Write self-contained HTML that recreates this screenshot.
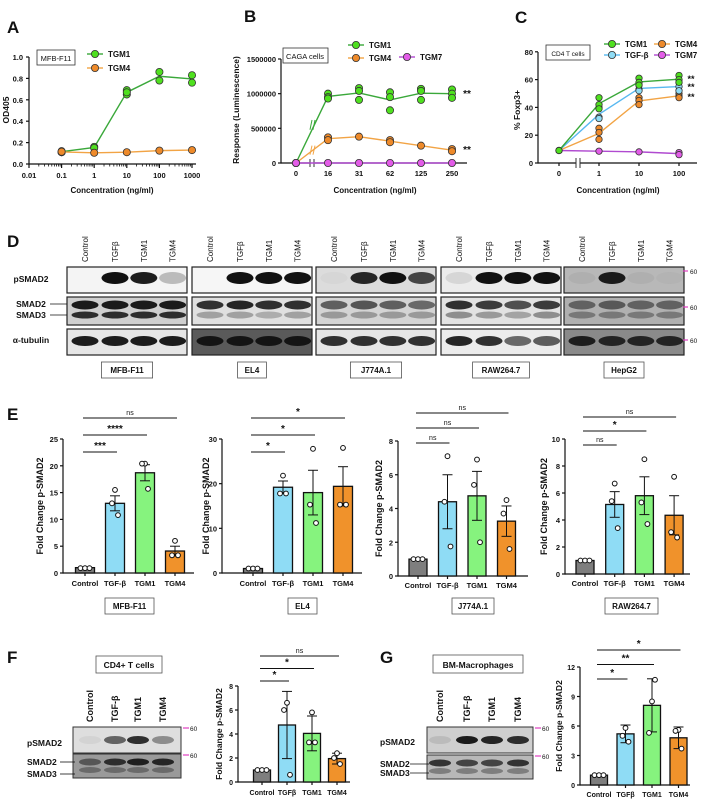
<!DOCTYPE html>
<html><head><meta charset="utf-8"><style>
html,body{margin:0;padding:0;background:#fff;width:701px;height:800px;overflow:hidden}
svg{display:block}
</style></head><body>
<svg id="fig" width="701" height="800" viewBox="0 0 701 800" xmlns="http://www.w3.org/2000/svg"></svg>
<script>
// ---------- DATA ----------
const aConc=[0.1,1,10,100,1000];
const aXTicks=[0.01,0.1,1,10,100,1000];
const aYTicks=[0,0.2,0.4,0.6,0.8,1.0];
const aTGM1=[[0.11,0.12],[0.16,0.15],[0.69,0.65,0.67],[0.86,0.78],[0.83,0.76]];
const aTGM4=[[0.11,0.115],[0.105],[0.11],[0.125],[0.13]];

const bCats=['0','16','31','62','125','250'];
const bYTicks=[0,500000,1000000,1500000];
const bTGM1=[[0],[1000000,950000,930000],[1080000,1040000,910000],[1020000,950000,760000],[1070000,1040000,910000],[1060000,1000000,940000]];
const bTGM4=[[0],[370000,330000],[380000],[330000,300000],[250000],[200000,170000]];
const bTGM7=[[0],[0],[0],[0],[0],[0]];

const cCats=['0','1','10','100'];
const cYTicks=[0,20,40,60,80];
const cTGM1=[[9],[47,42,39],[61,58,56],[63,60,58]];
const cTGFb=[[9],[40,33,32],[56,53,52],[58,55,52]];
const cTGM4=[[9],[25,22,17],[47,45,42],[50,48,47]];
const cTGM7=[[9],[8.5],[8],[7.5,6]];

const eCats=['Control','TGF-β','TGM1','TGM4'];
const fgCats=['Control','TGFβ','TGM1','TGM4'];
const e1Means=[1,13,18.7,4.1], e1Err=[0,1.4,1.5,0.9], e1Pts=[[0.9,0.9,0.9],[15.5,13,10.8],[20.4,20.4,15.7],[6,3.3,3.3]], e1Ticks=[0,5,10,15,20,25], e1Sig=[['***',1],['****',2],['ns',3]];
const e2Means=[1,19.2,18,19.4], e2Err=[0,1.4,5,4.4], e2Pts=[[1,1,1],[21.8,17.8,17.8],[27.8,15.3,11.2],[28,15.3,15.3]], e2Ticks=[0,10,20,30], e2Sig=[['*',1],['*',2],['*',3]];
const e3Means=[1,4.4,4.75,3.25], e3Err=[0,1.6,1.45,0.9], e3Pts=[[1,1,1],[7.1,4.4,1.75],[6.9,5.4,2],[4.5,3.7,1.6]], e3Ticks=[0,2,4,6,8], e3Sig=[['ns',1],['ns',2],['ns',3]];
const e4Means=[1,5.15,5.8,4.35], e4Err=[0,0.95,1.4,1.45], e4Pts=[[1,1,1],[6.7,5.4,3.4],[8.5,5.3,3.7],[7.2,3.1,2.7]], e4Ticks=[0,2,4,6,8,10], e4Sig=[['ns',1],['*',2],['ns',3]];
const fMeans=[1,4.75,4.05,1.95], fErr=[0,2.8,1.45,0.45], fPts=[[1,1,1],[6.6,6,0.6],[5.8,3.3,3.3],[2.4,2,1.5]], fTicks=[0,2,4,6,8], fSig=[['*',1],['*',2],['ns',3]];
const gMeans=[1,5.2,8.1,4.8], gErr=[0,0.9,2.7,1.1], gPts=[[1,1,1],[5.8,5,4.4],[8.5,5.3,10.7],[5.6,5.5,3.7]], gTicks=[0,3,6,9,12], gSig=[['*',1],['**',2],['*',3]];

// blot band intensities (lanes: Control, TGFb, TGM1, TGM4)
const dLines=['MFB-F11','EL4','J774A.1','RAW264.7','HepG2'];
const dP=[[0.02,1,0.95,0.25],[0.02,1,1,1],[0.03,0.9,1,0.75],[0.1,1,1,1],[0.05,0.95,0.05,0.03]];
const dS2=[[0.95,0.95,0.95,0.95],[0.85,0.9,0.85,0.85],[0.6,0.65,0.6,0.55],[0.85,0.8,0.7,0.8],[0.5,0.55,0.5,0.5]];
const dS3=[[0.85,0.85,0.85,0.85],[0.3,0.3,0.25,0.3],[0.3,0.3,0.3,0.3],[0.4,0.35,0.3,0.4],[0.35,0.35,0.35,0.35]];
const dT=[[0.95,0.95,0.95,0.95],[0.95,0.95,0.95,0.95],[0.85,0.85,0.85,0.85],[0.9,0.85,0.6,0.65],[0.9,0.85,0.85,0.85]];
const fP=[0.05,0.6,0.85,0.4], fS2=[0.5,0.8,0.9,0.85];
const gP=[0.1,0.95,0.9,0.85], gS2=[0.8,0.7,0.7,0.8];

// ---------- HELPERS ----------
const NS='http://www.w3.org/2000/svg';
const svg=document.getElementById('fig');
function add(tag,attrs,name){
  const e=document.createElementNS(NS,tag);
  for(const k in attrs) e.setAttribute(k,attrs[k]);
  
  
  svg.appendChild(e);return e;
}
const FF='"Liberation Sans", Arial, sans-serif';
function txt(x,y,s,name,o){const e=add('text',Object.assign({x:x,y:y,'font-family':FF,'font-size':8,'font-weight':'bold',fill:'#111','text-anchor':'middle'},o||{}),name);e.textContent=s;return e;}
function ln(x1,y1,x2,y2,name,st,sw){return add('line',{x1:x1,y1:y1,x2:x2,y2:y2,stroke:st||'#111','stroke-width':sw||1.2},name);}
function rt(x,y,w,h,name,o){return add('rect',Object.assign({x:x,y:y,width:w,height:h},o||{}),name);}
function rotTxt(x,y,s,name,o){const e=txt(x,y,s,name,Object.assign({transform:'rotate(-90 '+x+' '+y+')'},o||{}));return e;}
function mean(a){return a.reduce((p,c)=>p+c,0)/a.length;}
function label(x,y,s){txt(x,y,s,'panel-label-'+s.toLowerCase(),{'font-size':17,'text-anchor':'start'});}

// ---------- PANEL A ----------
label(7,33,'A');
const aX=v=>29+(Math.log10(v)+2)*32.6, aY=v=>164-v*107;
ln(29,57,29,164.6,'a-y-axis');ln(29,164,196,164,'a-x-axis');
aYTicks.forEach(t=>{ln(26,aY(t),29,aY(t),'a-y-tick');txt(23,aY(t)+3,t.toFixed(1),'a-y-tick-label',{'text-anchor':'end','font-size':7.5});});
aXTicks.forEach((t,i)=>{ln(aX(t),164,aX(t),168,'a-x-tick');txt(aX(t),178,String(t),'a-x-tick-label',{'font-size':7.5});
  if(i<aXTicks.length-1) for(let m=2;m<10;m++){const xx=aX(t*m);ln(xx,164,xx,166.5,'a-x-minor-tick','#111',0.8);}});
txt(112,193,'Concentration (ng/ml)','a-x-axis-title',{'font-size':8});
rotTxt(9,110,'OD405','a-y-axis-title',{'font-size':8.5});
function series(pts,xf,yf,col,fill,name,r){
  const d=pts.map((p,i)=>(i?'L':'M')+xf(i)+' '+yf(mean(p))).join(' ');
  add('path',{d:d,fill:'none',stroke:col,'stroke-width':1.4},name+'-line');
  pts.forEach((p,i)=>p.forEach(v=>add('circle',{cx:xf(i),cy:yf(v),r:r||3.6,fill:fill,stroke:'#333','stroke-width':0.8},name+'-point')));
}
series(aTGM1,i=>aX(aConc[i]),aY,'#3aa83a','#4fe01f','a-tgm1');
series(aTGM4,i=>aX(aConc[i]),aY,'#f2a445','#ee8a2a','a-tgm4');
rt(37,50,38,15,'a-cell-box',{fill:'#fff',stroke:'#333','stroke-width':0.8});
txt(56,61,'MFB-F11','a-cell-label',{'font-weight':'normal','font-size':7.5});
function legend(x,y,s,col,fill,name){ln(x-8,y,x+8,y,name+'-swatch-line',col,1.4);add('circle',{cx:x,cy:y,r:3.6,fill:fill,stroke:'#333','stroke-width':0.8},name+'-swatch');txt(x+13,y+3,s,name+'-label',{'text-anchor':'start','font-size':8});}
legend(95,54,'TGM1','#3aa83a','#4fe01f','a-legend-tgm1');
legend(95,68,'TGM4','#f2a445','#ee8a2a','a-legend-tgm4');

// ---------- PANEL B ----------
label(244,22,'B');
const bX=i=>i===0?296:328+(i-1)*31, bY=v=>163-v/1500000*104;
ln(281,59,281,163.6,'b-y-axis');ln(281,163,467,163,'b-x-axis');
bYTicks.forEach(t=>{ln(278,bY(t),281,bY(t),'b-y-tick');txt(276,bY(t)+3,String(t),'b-y-tick-label',{'text-anchor':'end','font-size':7.5});});
bCats.forEach((c,i)=>{ln(bX(i),163,bX(i),166,'b-x-tick');txt(bX(i),176,c,'b-x-tick-label',{'font-size':7.5});});
rt(310,159,5,8,'b-axis-break',{fill:'#fff'});ln(310,159,310,167,'b-break-mark','#333',1);ln(314,159,314,167,'b-break-mark','#333',1);
txt(375,193,'Concentration (ng/ml)','b-x-axis-title');
rotTxt(239,110,'Response (Luminescence)','b-y-axis-title',{'font-size':8.5});
series(bTGM4,bX,bY,'#f2a445','#ee8a2a','b-tgm4');
series(bTGM1,bX,bY,'#3aa83a','#4fe01f','b-tgm1');
series(bTGM7,bX,bY,'#b04ad0','#e35ce8','b-tgm7');
ln(310,bY(480000),312,bY(620000),'b-line-break','#3aa83a',1);ln(313,bY(480000),315,bY(620000),'b-line-break','#3aa83a',1);
ln(310,bY(120000),312,bY(250000),'b-line-break','#f2a445',1);ln(313,bY(120000),315,bY(250000),'b-line-break','#f2a445',1);
rt(283,48,45,15,'b-cell-box',{fill:'#fff',stroke:'#333','stroke-width':0.8});
txt(305,59,'CAGA cells','b-cell-label',{'font-weight':'normal','font-size':7.5});
legend(356,45,'TGM1','#3aa83a','#4fe01f','b-legend-tgm1');
legend(356,58,'TGM4','#f2a445','#ee8a2a','b-legend-tgm4');
legend(407,57,'TGM7','#b04ad0','#e35ce8','b-legend-tgm7');
txt(467,97,'**','b-sig-tgm1',{'font-size':10});txt(467,153,'**','b-sig-tgm4',{'font-size':10});

// ---------- PANEL C ----------
label(515,23,'C');
const cX=i=>i===0?559:599+(i-1)*40, cY=v=>163-v*1.39;
ln(538,52,538,163.6,'c-y-axis');ln(538,163,697,163,'c-x-axis');
cYTicks.forEach(t=>{ln(535,cY(t),538,cY(t),'c-y-tick');txt(533,cY(t)+3,String(t),'c-y-tick-label',{'text-anchor':'end','font-size':7.5});});
cCats.forEach((c,i)=>{ln(cX(i),163,cX(i),166,'c-x-tick');txt(cX(i),176,c,'c-x-tick-label',{'font-size':7.5});});
rt(576,159,4,8,'c-axis-break',{fill:'#fff'});ln(576,158,576,168,'c-break-mark','#333',1);ln(580,158,580,168,'c-break-mark','#333',1);
txt(618,193,'Concentration (ng/ml)','c-x-axis-title');
rotTxt(520,110,'% Foxp3+','c-y-axis-title',{'font-size':8.5});
series(cTGM7,cX,cY,'#b04ad0','#e35ce8','c-tgm7',3.2);
series(cTGM4,cX,cY,'#f2a445','#ee8a2a','c-tgm4',3.2);
series(cTGFb,cX,cY,'#58b8f0','#8fdcf5','c-tgfb',3.2);
series(cTGM1,cX,cY,'#3aa83a','#4fe01f','c-tgm1',3.2);
rt(546,45,44,15,'c-cell-box',{fill:'#fff',stroke:'#333','stroke-width':0.8});
txt(568,56,'CD4 T cells','c-cell-label',{'font-weight':'normal','font-size':6.5});
legend(612,44,'TGM1','#3aa83a','#4fe01f','c-legend-tgm1');
legend(612,55,'TGF-β','#58b8f0','#8fdcf5','c-legend-tgfb');
legend(662,44,'TGM4','#f2a445','#ee8a2a','c-legend-tgm4');
legend(662,55,'TGM7','#b04ad0','#e35ce8','c-legend-tgm7');
txt(691,82,'**','c-sig-tgm1',{'font-size':9});txt(691,90,'**','c-sig-tgfb',{'font-size':9});txt(691,100,'**','c-sig-tgm4',{'font-size':9});

// ---------- PANEL D (blots) ----------
label(7,247,'D');
const dGroupX=[67,192,316,441,564], dW=120, laneF=[0.15,0.4,0.64,0.88];
function band(cx,cy,w,h,a,name){if(a<=0.02)return;add('ellipse',{cx:cx,cy:cy,rx:w/2,ry:h/2,fill:'#111','fill-opacity':a},name);}
const bgP=['#f4f4f4','#f6f6f6','#dcdcdc','#ececec','#b8b8b8'];
const bgS=['#cfcfcf','#e0e0e0','#d4d4d4','#e2e2e2','#b0b0b0'];
const bgT=['#e6e6e6','#5a5a5a','#e6e6e6','#ececec','#8a8a8a'];
dLines.forEach((nm,g)=>{
  const x0=dGroupX[g];
  rt(x0,267,dW,26,'d-blot-psmad2-'+g,{fill:bgP[g],stroke:'#222','stroke-width':1.2});
  rt(x0,297,dW,28,'d-blot-smad-'+g,{fill:bgS[g],stroke:'#222','stroke-width':1.2});
  rt(x0,329,dW,26,'d-blot-tubulin-'+g,{fill:bgT[g],stroke:'#222','stroke-width':1.2});
  ['Control','TGFβ','TGM1','TGM4'].forEach((l,i)=>{
    const cx=x0+dW*laneF[i];
    rotTxt(cx+3,262,l,'d-lane-label',{'text-anchor':'start','font-weight':'normal','font-size':8});
    band(cx,278,27,12,dP[g][i],'d-band-psmad2');
    band(cx,305,27,9,dS2[g][i],'d-band-smad2');
    band(cx,315,27,7,dS3[g][i],'d-band-smad3');
    band(cx,341,27,10,dT[g][i],'d-band-tubulin');
  });
  const bw=nm.length*5.6+12;
  rt(x0+dW/2-bw/2,362,bw,16,'d-cell-box',{fill:'#fff',stroke:'#555','stroke-width':0.8});
  txt(x0+dW/2,373,nm,'d-cell-label',{'font-size':8});
});
txt(31,282,'pSMAD2','d-row-label-psmad2',{'font-size':8.5});
txt(31,307,'SMAD2','d-row-label-smad2',{'font-size':8.5});
txt(31,318,'SMAD3','d-row-label-smad3',{'font-size':8.5});
txt(31,343,'α-tubulin','d-row-label-tubulin',{'font-size':8.5});
ln(50,304,67,304,'d-smad2-pointer','#111',0.7);ln(50,315,67,315,'d-smad3-pointer','#111',0.7);
[271,307,340].forEach(y=>{ln(683,y,688,y,'d-mw-marker','#e040c0',1.2);txt(690,y+3,'60','d-mw-label',{'font-weight':'normal','font-size':6.5,'text-anchor':'start'});});

// ---------- BAR CHARTS ----------
const barCols=['#7e7e7e','#8fdcf5','#86f37e','#f0922b'];
function barChart(id,axX,bars,y0,yTop,maxV,bw,cats,means,err,pts,ticks,sig,sigY0,sigStep,xLabY,xEnd,titleX,fs){
  const Y=v=>y0-(v/maxV)*(y0-yTop), X=i=>bars[0]+i*(bars[1]-bars[0]);
  ln(axX,yTop,axX,y0+0.6,id+'-y-axis');ln(axX,y0,xEnd,y0,id+'-x-axis');
  ticks.forEach(t=>{ln(axX-3,Y(t),axX,Y(t),id+'-y-tick');txt(axX-5,Y(t)+3,String(t),id+'-y-tick-label',{'text-anchor':'end','font-size':fs});});
  rotTxt(titleX,(y0+yTop)/2,'Fold Change p-SMAD2',id+'-y-axis-title',{'font-size':fs+1.5});
  means.forEach((m,i)=>{
    const x=X(i);
    rt(x-bw/2,Y(m),bw,y0-Y(m),id+'-bar-'+i,{fill:barCols[i],stroke:'#111','stroke-width':1.3});
    ln(x,y0,x,y0+3,id+'-x-tick');
    txt(x,xLabY,cats[i],id+'-x-label',{'font-size':fs});
    if(err[i]>0){ln(x,Y(m+err[i]),x,Y(m-err[i]),id+'-error-bar','#111',1);
      ln(x-5,Y(m+err[i]),x+5,Y(m+err[i]),id+'-error-cap','#111',1);ln(x-5,Y(m-err[i]),x+5,Y(m-err[i]),id+'-error-cap','#111',1);}
    const offs=[-4.5,0,4.5];
    pts[i].forEach((v,k)=>add('circle',{cx:x+(i===0?offs[k]:[0,-3,3][k]),cy:Y(v),r:2.4,fill:'#fff',stroke:'#111','stroke-width':1},id+'-point'));
  });
  sig.forEach((s,k)=>{const y=sigY0-k*sigStep;ln(X(0)-2,y,X(s[1])+2,y,id+'-sig-line','#111',1.1);
    txt((X(0)+X(s[1]))/2,y-3,s[0],id+'-sig-label',s[0]==='ns'?{'font-weight':'normal','font-size':7}:{'font-size':10});});
}
label(7,420,'E');
barChart('e1',63,[85,115],573,439,25,19,eCats,e1Means,e1Err,e1Pts,e1Ticks,e1Sig,452,17,586,194,43,7.5);
barChart('e2',222,[253,283],573,439,30,19,eCats,e2Means,e2Err,e2Pts,e2Ticks,e2Sig,452,17,586,362,209,7.5);
barChart('e3',398,[418,447.5],576,441,8,18,eCats,e3Means,e3Err,e3Pts,e3Ticks,e3Sig,443,15,588,528,382,7.5);
barChart('e4',565,[585,614.7],574,439,10,18,eCats,e4Means,e4Err,e4Pts,e4Ticks,e4Sig,445,14,586,690,547,7.5);
[['MFB-F11',105,154],['EL4',288,317],['J774A.1',452,494],['RAW264.7',605,658]].forEach(b=>{
  rt(b[1],598,b[2]-b[1],16,'e-cell-box',{fill:'#fff',stroke:'#555','stroke-width':0.8});
  txt((b[1]+b[2])/2,609,b[0],'e-cell-label',{'font-size':8});});

// ---------- PANEL F ----------
label(7,663,'F');
rt(96,656,66,17,'f-cell-box',{fill:'#fff',stroke:'#555','stroke-width':0.8});
txt(129,668,'CD4+ T cells','f-cell-label',{'font-size':8.5});
function smallBlot(id,x0,w,lanes,labs,pI,sI,pY,sY,bgp,bgs){
  labs.forEach((l,i)=>rotTxt(lanes[i]+3,722,l,id+'-lane-label',{'text-anchor':'start','font-size':9}));
  rt(x0,pY,w,26,id+'-blot-psmad2',{fill:bgp,stroke:'#333','stroke-width':1});
  rt(x0,sY,w,24,id+'-blot-smad',{fill:bgs,stroke:'#333','stroke-width':1});
  lanes.forEach((cx,i)=>{band(cx,pY+13,22,8,pI[i],id+'-band-psmad2');band(cx,sY+8,22,7,sI[i],id+'-band-smad2');band(cx,sY+16,22,6,0.35,id+'-band-smad3');});
  [pY+1,sY+1].forEach(y=>{ln(x0+w+2,y,x0+w+8,y,id+'-mw-marker','#e040c0',1.2);txt(x0+w+9,y+3,'60','d-mw-label',{'font-weight':'normal','font-size':6.5,'text-anchor':'start'});});
}
smallBlot('f',73,108,[90,115,138,163],['Control','TGF-β','TGM1','TGM4'],fP,fS2,727,754,'#dedede','#9a9a9a');
txt(27,746,'pSMAD2','f-row-label-psmad2',{'font-size':8.5,'text-anchor':'start'});
txt(27,765,'SMAD2','f-row-label-smad2',{'font-size':8.5,'text-anchor':'start'});
txt(27,777,'SMAD3','f-row-label-smad3',{'font-size':8.5,'text-anchor':'start'});
ln(60,762,75,762,'f-smad2-pointer','#111',0.8);ln(60,774,75,774,'f-smad3-pointer','#111',0.8);
barChart('f',238,[262,287],782,686,8,17,fgCats,fMeans,fErr,fPts,fTicks,fSig,681,12.5,795,350,222,7);

// ---------- PANEL G ----------
label(380,663,'G');
rt(433,655,90,18,'g-cell-box',{fill:'#fff',stroke:'#555','stroke-width':0.8});
txt(478,668,'BM-Macrophages','g-cell-label',{'font-size':8.5});
smallBlot('g',427,106,[440,467,492,518],['Control','TGF-β','TGM1','TGM4'],gP,gS2,727,755,'#cfcfcf','#b8b8b8');
txt(380,745,'pSMAD2','g-row-label-psmad2',{'font-size':8.5,'text-anchor':'start'});
txt(380,767,'SMAD2','g-row-label-smad2',{'font-size':8.5,'text-anchor':'start'});
txt(380,776,'SMAD3','g-row-label-smad3',{'font-size':8.5,'text-anchor':'start'});
ln(410,764,429,764,'g-smad2-pointer','#111',0.8);ln(410,773,429,773,'g-smad3-pointer','#111',0.8);
barChart('g',580,[599,625.5],785,667,12,17,fgCats,gMeans,gErr,gPts,gTicks,gSig,679,14.5,797,690,562,7);
</script>
</body></html>
